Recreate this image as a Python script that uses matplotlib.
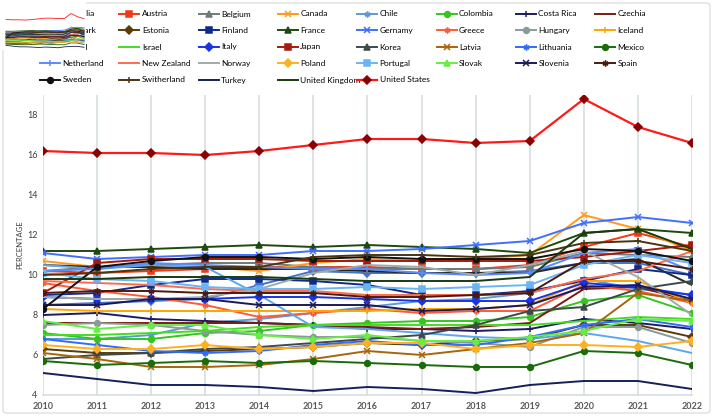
import matplotlib
matplotlib.use("Agg")
import matplotlib.pyplot as plt
from matplotlib.patches import FancyBboxPatch

plt.rcParams['font.family'] = ['Lato', 'DejaVu Sans']

years = list(range(2010, 2023))

# health expenditure, % of GDP
australia = [8.5, 8.6, 8.7, 8.8, 9.5, 10.2, 10.1, 10.1, 10.1, 10.2, 10.6, 10.6, 10.0]
austria = [10.2, 10.1, 10.2, 10.3, 10.4, 10.4, 10.4, 10.3, 10.3, 10.5, 11.4, 12.1, 11.4]
belgium = [10.2, 10.4, 10.5, 10.6, 10.6, 10.4, 10.3, 10.3, 10.3, 10.4, 11.1, 11.0, 10.9]
canada = [10.7, 10.4, 10.4, 10.4, 10.2, 10.6, 10.8, 10.7, 10.8, 11.0, 13.0, 12.3, 11.2]
chile = [6.8, 6.8, 7.0, 7.6, 7.8, 8.1, 8.4, 8.7, 8.8, 9.1, 9.8, 9.3, 9.0]
colombia = [7.1, 6.8, 6.8, 7.1, 7.2, 7.5, 7.6, 7.7, 7.7, 7.9, 8.7, 9.0, 8.1]
costa_rica = [8.0, 8.1, 7.8, 7.7, 7.6, 7.5, 7.3, 7.3, 7.2, 7.3, 7.8, 7.6, 7.3]
czechia = [7.6, 7.6, 7.6, 7.6, 7.6, 7.5, 7.4, 7.3, 7.4, 7.6, 9.3, 9.4, 8.7]
denmark = [10.5, 10.4, 10.4, 10.3, 10.3, 10.3, 10.2, 10.1, 10.1, 10.1, 10.6, 10.8, 9.5]
estonia = [6.3, 6.1, 6.1, 6.2, 6.3, 6.4, 6.6, 6.5, 6.7, 6.8, 7.5, 7.5, 6.9]
finland = [9.0, 9.1, 9.5, 9.8, 9.8, 9.7, 9.5, 9.0, 9.0, 9.2, 9.7, 10.3, 10.0]
france = [11.2, 11.2, 11.3, 11.4, 11.5, 11.4, 11.5, 11.4, 11.3, 11.1, 12.1, 12.3, 12.1]
germany = [11.1, 10.8, 10.9, 11.0, 11.0, 11.2, 11.2, 11.3, 11.5, 11.7, 12.6, 12.9, 12.6]
greece = [9.6, 9.2, 8.9, 8.5, 7.9, 8.1, 8.3, 8.1, 8.2, 8.2, 9.5, 9.2, 8.6]
hungary = [7.5, 7.6, 7.5, 7.2, 7.0, 6.9, 6.9, 6.7, 6.6, 6.4, 7.4, 7.4, 6.6]
iceland = [8.3, 8.2, 8.2, 8.2, 8.2, 8.2, 8.2, 8.3, 8.3, 8.5, 9.7, 9.7, 8.6]
ireland = [10.5, 10.3, 10.5, 10.4, 9.0, 7.4, 7.3, 7.1, 6.9, 6.8, 7.1, 6.7, 6.1]
israel = [7.0, 7.0, 7.1, 7.2, 7.4, 7.5, 7.5, 7.5, 7.5, 7.5, 7.7, 7.9, 7.8]
italy = [8.9, 8.8, 8.8, 8.8, 8.9, 8.9, 8.8, 8.7, 8.7, 8.7, 9.6, 9.4, 9.0]
japan = [9.1, 10.6, 10.8, 10.8, 10.8, 10.7, 10.7, 10.7, 10.7, 10.7, 10.9, 11.2, 11.5]
korea = [5.8, 6.0, 6.1, 6.3, 6.4, 6.6, 6.8, 7.0, 7.5, 8.2, 8.4, 9.3, 9.7]
latvia = [6.1, 5.8, 5.4, 5.4, 5.5, 5.8, 6.2, 6.0, 6.3, 6.6, 7.1, 9.1, 8.7]
lithuania = [6.8, 6.5, 6.2, 6.1, 6.2, 6.5, 6.7, 6.5, 6.5, 6.9, 7.5, 7.8, 7.4]
mexico = [5.7, 5.5, 5.6, 5.7, 5.6, 5.7, 5.6, 5.5, 5.4, 5.4, 6.2, 6.1, 5.5]
netherlands = [10.2, 10.3, 10.6, 10.5, 10.4, 10.3, 10.3, 10.1, 10.0, 10.1, 11.1, 11.3, 10.2]
new_zealand = [9.7, 9.6, 9.5, 9.3, 9.2, 9.2, 9.0, 9.0, 9.0, 9.1, 9.8, 10.2, 11.2]
norway = [8.9, 8.8, 8.8, 8.9, 9.3, 10.1, 10.5, 10.4, 10.0, 10.5, 11.2, 9.9, 8.0]
poland = [6.5, 6.3, 6.3, 6.5, 6.3, 6.4, 6.6, 6.6, 6.3, 6.5, 6.5, 6.4, 6.7]
portugal = [10.1, 9.8, 9.7, 9.4, 9.3, 9.3, 9.4, 9.3, 9.4, 9.5, 10.5, 11.0, 10.6]
slovak = [7.7, 7.3, 7.5, 7.5, 7.0, 6.8, 7.0, 6.7, 6.7, 6.9, 7.2, 7.8, 7.7]
slovenia = [8.5, 8.5, 8.8, 8.8, 8.5, 8.5, 8.5, 8.2, 8.3, 8.5, 9.4, 9.5, 8.8]
spain = [9.1, 9.2, 9.2, 9.1, 9.1, 9.1, 8.9, 8.9, 9.0, 9.1, 10.7, 10.7, 10.3]
sweden = [8.3, 10.4, 10.7, 10.9, 10.9, 10.8, 10.9, 10.8, 10.8, 10.8, 11.3, 11.2, 10.7]
switzerland = [10.0, 10.1, 10.3, 10.4, 10.4, 10.9, 11.0, 11.0, 10.9, 11.0, 11.6, 11.7, 11.2]
turkey = [5.1, 4.8, 4.5, 4.5, 4.4, 4.2, 4.4, 4.3, 4.1, 4.5, 4.7, 4.7, 4.3]
united_kingdom = [9.8, 9.8, 9.9, 9.9, 9.9, 9.8, 9.7, 9.7, 9.7, 9.9, 12.1, 12.3, 11.3]
united_states = [16.2, 16.1, 16.1, 16.0, 16.2, 16.5, 16.8, 16.8, 16.6, 16.7, 18.8, 17.4, 16.6]

star = (6, 2, 0)
series = [
    ("Australia", australia, "#4472C4", "D"),
    ("Austria", austria, "#F03A17", "s"),
    ("Belgium", belgium, "#6E7B7B", "^"),
    ("Canada", canada, "#FF9A1A", "x"),
    ("Chile", chile, "#5B9BD5", star),
    ("Colombia", colombia, "#33C61F", "o"),
    ("Costa Rica", costa_rica, "#1C1C66", "+"),
    ("Czechia", czechia, "#7B1C10", None),
    ("Denmark", denmark, "#262626", None),
    ("Estonia", estonia, "#5C3A0A", "D"),
    ("Finland", finland, "#102A8C", "s"),
    ("France", france, "#1E4A0E", "^"),
    ("Gernamy", germany, "#3F6FFF", "x"),
    ("Greece", greece, "#FF5A36", star),
    ("Hungary", hungary, "#8A9A9A", "o"),
    ("Iceland", iceland, "#FFA500", "+"),
    ("Ireland", ireland, "#5BA7F0", None),
    ("Israel", israel, "#44DD22", None),
    ("Italy", italy, "#1A33E6", "D"),
    ("Japan", japan, "#A51A0A", "s"),
    ("Korea", korea, "#3E4A4A", "^"),
    ("Latvia", latvia, "#A8650A", "x"),
    ("Lithuania", lithuania, "#2F6BFF", star),
    ("Mexico", mexico, "#1A6B0A", "o"),
    ("Netherland", netherlands, "#5B8CFF", "+"),
    ("New Zealand", new_zealand, "#FF6A4D", None),
    ("Norway", norway, "#A0AAAA", None),
    ("Poland", poland, "#FFB020", "D"),
    ("Portugal", portugal, "#6AB4F5", "s"),
    ("Slovak", slovak, "#66EE44", "^"),
    ("Slovenia", slovenia, "#1A1A5A", "x"),
    ("Spain", spain, "#4A1A10", star),
    ("Sweden", sweden, "#111111", "o"),
    ("Switherland", switzerland, "#4A3510", "+"),
    ("Turkey", turkey, "#14205A", None),
    ("United Kingdom", united_kingdom, "#1A3A10", None),
    ("United States", united_states, "#FF1A1A", "D"),
]

W, H = 713, 416
fig = plt.figure(figsize=(W / 100, H / 100), dpi=100)

# chart border
fig.patches.append(FancyBboxPatch((3 / W, 3 / H), 707 / W, 410 / H,
                                  boxstyle="round,pad=0,rounding_size=0.006",
                                  transform=fig.transFigure, fill=False,
                                  edgecolor="#D9D9D9", linewidth=0.8))

ax = fig.add_axes([43 / W, 1 - 395 / H, 649 / W, 300 / H])
handles = []
for name, vals, col, mk in series:
    is_us = name == "United States"
    mfc = "#8B0000" if is_us else col
    h, = ax.plot(years, vals, color=col, lw=1.6 if is_us else 1.4, marker=mk,
                 markersize=3.6 if is_us else 4.2,
                 markerfacecolor=mfc, markeredgecolor=mfc, markeredgewidth=1.1,
                 label=name)
    handles.append(h)

ax.set_xlim(2010, 2022)
ax.set_ylim(4, 19)
ax.set_xticks(years)
ax.set_xticklabels([str(y) for y in years], fontsize=6.5, fontweight="bold",
                   color="#595959")
ax.set_yticks(range(4, 19, 2))
ax.tick_params(axis="y", labelsize=6.5, labelcolor="#404040", length=0, pad=4)
ax.tick_params(axis="x", length=0, pad=5)
ax.grid(axis="x", color="#D3DADE", lw=1.1)
ax.set_axisbelow(True)
for s in ["top", "right", "left"]:
    ax.spines[s].set_visible(False)
ax.spines["bottom"].set_color("#D3DADE")
ax.spines["bottom"].set_linewidth(1.1)
ax.set_ylabel("PERCENTAGE", fontsize=5.5, color="#404040", labelpad=3)

# legend: 8 evenly spaced columns
ncol = 8
for c in range(ncol):
    hs = [handles[i] for i in range(c, len(handles), ncol)]
    fig.legend(handles=hs, loc="upper left",
               bbox_to_anchor=((40 + 79.3 * c) / W, 1 - 10.5 / H),
               frameon=False, fontsize=6, handlelength=2.4,
               handletextpad=0.3, borderpad=0, borderaxespad=0,
               labelspacing=1.14, numpoints=1)

# small thumbnail in the top-left corner
ins = fig.add_axes([2 / W, 1 - 50 / H, 84 / W, 50 / H], zorder=10)
ins.set_facecolor("white")
for name, vals, col, mk in series:
    ins.plot(years, vals, color=col, lw=0.6)
ins.set_xlim(2009.38, 2022.3)
ins.set_ylim(3.14, 24.6)
ins.set_xticks([])
ins.set_yticks([])
for s in ins.spines.values():
    s.set_visible(False)

fig.savefig("out.png", dpi=100)
